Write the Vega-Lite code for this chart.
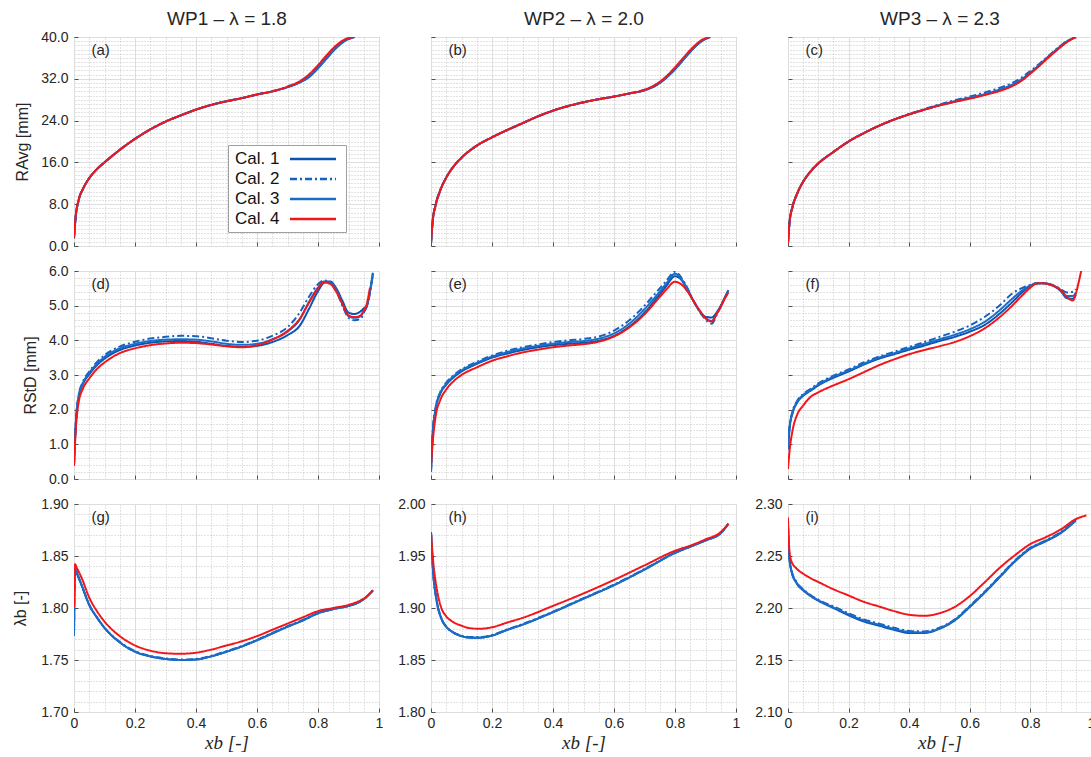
{
"$schema": "https://vega.github.io/schema/vega-lite/v6.json",
"background": "white",
"padding": {"left": 12, "top": 8, "right": 0, "bottom": 5},
"data": {"name": "d"},
"columns": 3,
"spacing": {"row": 25, "column": 52},
"bounds": "flush",
"config": {
  "view": {"stroke": "#a3a3a3", "strokeWidth": 1},
  "axis": {"labelFont": "Liberation Sans", "labelFontSize": 14, "labelColor": "#262626", "titleFont": "Liberation Sans", "titleFontSize": 16, "titleFontWeight": "normal", "titleColor": "#262626", "domain": false, "ticks": false, "labelPadding": 6, "labelOverlap": false, "labelFlush": false, "gridColor": "#dedede", "gridWidth": 1},
  "axisBottom": {"ticks": true, "tickSize": -4, "tickColor": "#505050", "labelPadding": 8},
  "axisLeft": {"ticks": true, "tickSize": -4, "tickColor": "#505050", "labelPadding": 10},
  "axisTop": {"ticks": false, "grid": true, "gridColor": "#c4c4c4", "gridDash": [1,2]},
  "axisRight": {"ticks": false, "grid": true, "gridColor": "#c4c4c4", "gridDash": [1,2]},
  "legend": {"labelFont": "Liberation Sans", "labelFontSize": 17, "labelColor": "#111111"}
},
"datasets": {"d": [
{"p":"a","x":0,"c1":1.5,"c2":1.5,"c3":1.5,"c4":1.6},
{"p":"a","x":0.005,"c1":5.3,"c2":5.3,"c3":5.3,"c4":5.5},
{"p":"a","x":0.015,"c1":8.7,"c2":8.7,"c3":8.7,"c4":8.8},
{"p":"a","x":0.03,"c1":11.0,"c2":11.0,"c3":11.0,"c4":11.0},
{"p":"a","x":0.05,"c1":13.0,"c2":13.0,"c3":13.0,"c4":13.0},
{"p":"a","x":0.075,"c1":14.7,"c2":14.7,"c3":14.7,"c4":14.7},
{"p":"a","x":0.1,"c1":16.0,"c2":16.0,"c3":16.0,"c4":16.0},
{"p":"a","x":0.15,"c1":18.4,"c2":18.4,"c3":18.4,"c4":18.4},
{"p":"a","x":0.2,"c1":20.5,"c2":20.5,"c3":20.5,"c4":20.5},
{"p":"a","x":0.25,"c1":22.3,"c2":22.3,"c3":22.3,"c4":22.3},
{"p":"a","x":0.3,"c1":23.8,"c2":23.8,"c3":23.8,"c4":23.8},
{"p":"a","x":0.35,"c1":25.0,"c2":25.0,"c3":25.0,"c4":25.0},
{"p":"a","x":0.4,"c1":26.1,"c2":26.1,"c3":26.1,"c4":26.1},
{"p":"a","x":0.45,"c1":27.0,"c2":27.0,"c3":27.0,"c4":27.0},
{"p":"a","x":0.5,"c1":27.7,"c2":27.7,"c3":27.7,"c4":27.7},
{"p":"a","x":0.55,"c1":28.3,"c2":28.3,"c3":28.3,"c4":28.3},
{"p":"a","x":0.6,"c1":29.0,"c2":29.0,"c3":29.0,"c4":29.0},
{"p":"a","x":0.65,"c1":29.6,"c2":29.6,"c3":29.6,"c4":29.6},
{"p":"a","x":0.7,"c1":30.4,"c2":30.5,"c3":30.4,"c4":30.5},
{"p":"a","x":0.74,"c1":31.3,"c2":31.5,"c3":31.3,"c4":31.5},
{"p":"a","x":0.77,"c1":32.3,"c2":32.6,"c3":32.4,"c4":32.8},
{"p":"a","x":0.8,"c1":34.0,"c2":34.3,"c3":34.1,"c4":34.6},
{"p":"a","x":0.83,"c1":36.0,"c2":36.3,"c3":36.1,"c4":36.6},
{"p":"a","x":0.86,"c1":37.9,"c2":38.1,"c3":38.0,"c4":38.4},
{"p":"a","x":0.89,"c1":39.3,"c2":39.5,"c3":39.4,"c4":39.6},
{"p":"a","x":0.92,"c1":40.0,"c2":40.0,"c3":40.0,"c4":40.0},
{"p":"b","x":0,"c1":0.5,"c2":0.5,"c3":0.5,"c4":0.5},
{"p":"b","x":0.005,"c1":4.5,"c2":4.5,"c3":4.5,"c4":4.5},
{"p":"b","x":0.015,"c1":7.8,"c2":7.8,"c3":7.8,"c4":7.8},
{"p":"b","x":0.03,"c1":10.6,"c2":10.6,"c3":10.6,"c4":10.6},
{"p":"b","x":0.05,"c1":13.1,"c2":13.1,"c3":13.1,"c4":13.1},
{"p":"b","x":0.075,"c1":15.3,"c2":15.3,"c3":15.3,"c4":15.3},
{"p":"b","x":0.1,"c1":16.9,"c2":16.9,"c3":16.9,"c4":16.9},
{"p":"b","x":0.15,"c1":19.2,"c2":19.2,"c3":19.2,"c4":19.2},
{"p":"b","x":0.2,"c1":20.8,"c2":20.8,"c3":20.8,"c4":20.8},
{"p":"b","x":0.25,"c1":22.2,"c2":22.2,"c3":22.2,"c4":22.2},
{"p":"b","x":0.3,"c1":23.5,"c2":23.5,"c3":23.5,"c4":23.5},
{"p":"b","x":0.35,"c1":24.8,"c2":24.8,"c3":24.8,"c4":24.8},
{"p":"b","x":0.4,"c1":25.9,"c2":25.9,"c3":25.9,"c4":25.9},
{"p":"b","x":0.45,"c1":26.8,"c2":26.8,"c3":26.8,"c4":26.8},
{"p":"b","x":0.5,"c1":27.5,"c2":27.5,"c3":27.5,"c4":27.5},
{"p":"b","x":0.55,"c1":28.1,"c2":28.1,"c3":28.1,"c4":28.1},
{"p":"b","x":0.6,"c1":28.6,"c2":28.6,"c3":28.6,"c4":28.6},
{"p":"b","x":0.65,"c1":29.2,"c2":29.2,"c3":29.2,"c4":29.2},
{"p":"b","x":0.7,"c1":29.8,"c2":29.9,"c3":29.8,"c4":29.9},
{"p":"b","x":0.74,"c1":30.8,"c2":31.0,"c3":30.9,"c4":31.0},
{"p":"b","x":0.77,"c1":32.1,"c2":32.3,"c3":32.2,"c4":32.4},
{"p":"b","x":0.8,"c1":33.8,"c2":34.0,"c3":33.9,"c4":34.2},
{"p":"b","x":0.83,"c1":35.8,"c2":36.0,"c3":35.9,"c4":36.2},
{"p":"b","x":0.86,"c1":37.8,"c2":37.9,"c3":37.8,"c4":38.1},
{"p":"b","x":0.89,"c1":39.3,"c2":39.4,"c3":39.3,"c4":39.5},
{"p":"b","x":0.915,"c1":40.0,"c2":40.0,"c3":40.0,"c4":40.0},
{"p":"c","x":0,"c1":0.5,"c2":0.5,"c3":0.5,"c4":0.5},
{"p":"c","x":0.005,"c1":4.5,"c2":4.5,"c3":4.5,"c4":4.5},
{"p":"c","x":0.015,"c1":7.5,"c2":7.5,"c3":7.5,"c4":7.5},
{"p":"c","x":0.03,"c1":10.0,"c2":10.0,"c3":10.0,"c4":10.0},
{"p":"c","x":0.05,"c1":12.3,"c2":12.3,"c3":12.3,"c4":12.3},
{"p":"c","x":0.075,"c1":14.3,"c2":14.3,"c3":14.3,"c4":14.3},
{"p":"c","x":0.1,"c1":15.8,"c2":15.8,"c3":15.8,"c4":15.8},
{"p":"c","x":0.15,"c1":18.0,"c2":18.0,"c3":18.0,"c4":18.0},
{"p":"c","x":0.2,"c1":20.0,"c2":20.0,"c3":20.0,"c4":20.0},
{"p":"c","x":0.25,"c1":21.6,"c2":21.6,"c3":21.6,"c4":21.6},
{"p":"c","x":0.3,"c1":23.0,"c2":23.0,"c3":23.0,"c4":23.0},
{"p":"c","x":0.35,"c1":24.2,"c2":24.2,"c3":24.2,"c4":24.2},
{"p":"c","x":0.4,"c1":25.2,"c2":25.3,"c3":25.2,"c4":25.2},
{"p":"c","x":0.45,"c1":26.1,"c2":26.2,"c3":26.1,"c4":26.1},
{"p":"c","x":0.5,"c1":26.9,"c2":27.1,"c3":27.0,"c4":26.9},
{"p":"c","x":0.55,"c1":27.6,"c2":27.9,"c3":27.7,"c4":27.6},
{"p":"c","x":0.6,"c1":28.3,"c2":28.6,"c3":28.4,"c4":28.2},
{"p":"c","x":0.65,"c1":29.0,"c2":29.4,"c3":29.1,"c4":28.9},
{"p":"c","x":0.7,"c1":29.8,"c2":30.3,"c3":30.0,"c4":29.7},
{"p":"c","x":0.74,"c1":30.7,"c2":31.2,"c3":30.9,"c4":30.6},
{"p":"c","x":0.77,"c1":31.7,"c2":32.2,"c3":31.9,"c4":31.6},
{"p":"c","x":0.8,"c1":33.1,"c2":33.5,"c3":33.2,"c4":33.0},
{"p":"c","x":0.83,"c1":34.6,"c2":34.9,"c3":34.7,"c4":34.5},
{"p":"c","x":0.86,"c1":36.2,"c2":36.4,"c3":36.3,"c4":36.1},
{"p":"c","x":0.89,"c1":37.7,"c2":37.9,"c3":37.8,"c4":37.6},
{"p":"c","x":0.92,"c1":39.1,"c2":39.2,"c3":39.1,"c4":39.0},
{"p":"c","x":0.95,"c1":40.0,"c2":40.0,"c3":40.0,"c4":40.0},
{"p":"d","x":0,"c1":0.4,"c2":0.4,"c3":0.4,"c4":0.38},
{"p":"d","x":0.005,"c1":1.45,"c2":1.5,"c3":1.45,"c4":1.3},
{"p":"d","x":0.015,"c1":2.35,"c2":2.4,"c3":2.38,"c4":2.2},
{"p":"d","x":0.03,"c1":2.75,"c2":2.82,"c3":2.78,"c4":2.62},
{"p":"d","x":0.05,"c1":3.02,"c2":3.1,"c3":3.06,"c4":2.9},
{"p":"d","x":0.075,"c1":3.28,"c2":3.37,"c3":3.32,"c4":3.17},
{"p":"d","x":0.1,"c1":3.47,"c2":3.57,"c3":3.52,"c4":3.36},
{"p":"d","x":0.15,"c1":3.72,"c2":3.82,"c3":3.77,"c4":3.63},
{"p":"d","x":0.2,"c1":3.85,"c2":3.96,"c3":3.9,"c4":3.77},
{"p":"d","x":0.25,"c1":3.93,"c2":4.05,"c3":3.98,"c4":3.86},
{"p":"d","x":0.3,"c1":3.97,"c2":4.1,"c3":4.02,"c4":3.91},
{"p":"d","x":0.35,"c1":3.98,"c2":4.13,"c3":4.03,"c4":3.93},
{"p":"d","x":0.4,"c1":3.96,"c2":4.12,"c3":4.02,"c4":3.92},
{"p":"d","x":0.45,"c1":3.9,"c2":4.06,"c3":3.97,"c4":3.88},
{"p":"d","x":0.5,"c1":3.84,"c2":3.99,"c3":3.9,"c4":3.83},
{"p":"d","x":0.55,"c1":3.81,"c2":3.95,"c3":3.87,"c4":3.8},
{"p":"d","x":0.6,"c1":3.84,"c2":3.99,"c3":3.9,"c4":3.86},
{"p":"d","x":0.65,"c1":3.95,"c2":4.13,"c3":4.03,"c4":4.02},
{"p":"d","x":0.7,"c1":4.15,"c2":4.38,"c3":4.25,"c4":4.27},
{"p":"d","x":0.74,"c1":4.42,"c2":4.8,"c3":4.6,"c4":4.62},
{"p":"d","x":0.77,"c1":4.9,"c2":5.25,"c3":5.1,"c4":5.08},
{"p":"d","x":0.8,"c1":5.42,"c2":5.62,"c3":5.52,"c4":5.5},
{"p":"d","x":0.82,"c1":5.66,"c2":5.73,"c3":5.7,"c4":5.67},
{"p":"d","x":0.84,"c1":5.7,"c2":5.66,"c3":5.67,"c4":5.63},
{"p":"d","x":0.86,"c1":5.5,"c2":5.42,"c3":5.45,"c4":5.4},
{"p":"d","x":0.88,"c1":5.14,"c2":5.0,"c3":5.05,"c4":5.05},
{"p":"d","x":0.9,"c1":4.8,"c2":4.65,"c3":4.7,"c4":4.72},
{"p":"d","x":0.92,"c1":4.76,"c2":4.58,"c3":4.65,"c4":4.67},
{"p":"d","x":0.94,"c1":4.84,"c2":4.62,"c3":4.7,"c4":4.72},
{"p":"d","x":0.95,"c1":4.92,"c2":4.8,"c3":4.85,"c4":4.85},
{"p":"d","x":0.96,"c1":5.0,"c2":4.97,"c3":4.98,"c4":5.05},
{"p":"d","x":0.97,"c1":5.4,"c2":5.35,"c3":5.38,"c4":5.5},
{"p":"d","x":0.98,"c1":5.95,"c2":5.9,"c3":5.92,"c4":null},
{"p":"e","x":0,"c1":0.2,"c2":0.2,"c3":0.2,"c4":0.38},
{"p":"e","x":0.005,"c1":1.2,"c2":1.25,"c3":1.22,"c4":1.0},
{"p":"e","x":0.015,"c1":2.0,"c2":2.05,"c3":2.02,"c4":1.8},
{"p":"e","x":0.03,"c1":2.45,"c2":2.5,"c3":2.47,"c4":2.27},
{"p":"e","x":0.05,"c1":2.72,"c2":2.78,"c3":2.75,"c4":2.58},
{"p":"e","x":0.075,"c1":2.94,"c2":3.0,"c3":2.97,"c4":2.83},
{"p":"e","x":0.1,"c1":3.1,"c2":3.16,"c3":3.13,"c4":3.0},
{"p":"e","x":0.15,"c1":3.32,"c2":3.38,"c3":3.35,"c4":3.22},
{"p":"e","x":0.2,"c1":3.5,"c2":3.56,"c3":3.53,"c4":3.41},
{"p":"e","x":0.25,"c1":3.62,"c2":3.7,"c3":3.66,"c4":3.54},
{"p":"e","x":0.3,"c1":3.72,"c2":3.8,"c3":3.76,"c4":3.65},
{"p":"e","x":0.35,"c1":3.8,"c2":3.88,"c3":3.84,"c4":3.73},
{"p":"e","x":0.4,"c1":3.86,"c2":3.95,"c3":3.9,"c4":3.8},
{"p":"e","x":0.45,"c1":3.9,"c2":4.0,"c3":3.95,"c4":3.85},
{"p":"e","x":0.5,"c1":3.93,"c2":4.04,"c3":3.98,"c4":3.89},
{"p":"e","x":0.55,"c1":3.99,"c2":4.11,"c3":4.05,"c4":3.96},
{"p":"e","x":0.6,"c1":4.13,"c2":4.28,"c3":4.2,"c4":4.11},
{"p":"e","x":0.65,"c1":4.4,"c2":4.58,"c3":4.48,"c4":4.37},
{"p":"e","x":0.7,"c1":4.8,"c2":5.0,"c3":4.9,"c4":4.75},
{"p":"e","x":0.74,"c1":5.22,"c2":5.4,"c3":5.3,"c4":5.15},
{"p":"e","x":0.77,"c1":5.55,"c2":5.7,"c3":5.62,"c4":5.45},
{"p":"e","x":0.8,"c1":5.85,"c2":5.98,"c3":5.92,"c4":5.69},
{"p":"e","x":0.82,"c1":5.75,"c2":5.82,"c3":5.78,"c4":5.62},
{"p":"e","x":0.84,"c1":5.47,"c2":5.52,"c3":5.5,"c4":5.42},
{"p":"e","x":0.86,"c1":5.14,"c2":5.15,"c3":5.15,"c4":5.15},
{"p":"e","x":0.88,"c1":4.86,"c2":4.84,"c3":4.85,"c4":4.87},
{"p":"e","x":0.9,"c1":4.68,"c2":4.6,"c3":4.64,"c4":4.64},
{"p":"e","x":0.92,"c1":4.66,"c2":4.48,"c3":4.56,"c4":4.54},
{"p":"e","x":0.94,"c1":4.85,"c2":4.8,"c3":4.82,"c4":4.82},
{"p":"e","x":0.95,"c1":5.0,"c2":4.97,"c3":4.98,"c4":4.97},
{"p":"e","x":0.96,"c1":5.18,"c2":5.15,"c3":5.16,"c4":5.15},
{"p":"e","x":0.975,"c1":5.45,"c2":5.43,"c3":5.44,"c4":5.38},
{"p":"f","x":0,"c1":0.85,"c2":0.9,"c3":0.87,"c4":0.29},
{"p":"f","x":0.005,"c1":1.45,"c2":1.5,"c3":1.47,"c4":0.8},
{"p":"f","x":0.015,"c1":1.9,"c2":1.95,"c3":1.92,"c4":1.4},
{"p":"f","x":0.03,"c1":2.2,"c2":2.25,"c3":2.22,"c4":1.85},
{"p":"f","x":0.05,"c1":2.4,"c2":2.45,"c3":2.42,"c4":2.12},
{"p":"f","x":0.075,"c1":2.55,"c2":2.6,"c3":2.57,"c4":2.37},
{"p":"f","x":0.1,"c1":2.7,"c2":2.76,"c3":2.72,"c4":2.5},
{"p":"f","x":0.15,"c1":2.92,"c2":2.98,"c3":2.95,"c4":2.7},
{"p":"f","x":0.2,"c1":3.1,"c2":3.16,"c3":3.13,"c4":2.88},
{"p":"f","x":0.25,"c1":3.3,"c2":3.36,"c3":3.32,"c4":3.08},
{"p":"f","x":0.3,"c1":3.47,"c2":3.53,"c3":3.5,"c4":3.28},
{"p":"f","x":0.35,"c1":3.6,"c2":3.67,"c3":3.63,"c4":3.45},
{"p":"f","x":0.4,"c1":3.73,"c2":3.81,"c3":3.77,"c4":3.6},
{"p":"f","x":0.45,"c1":3.85,"c2":3.95,"c3":3.9,"c4":3.72},
{"p":"f","x":0.5,"c1":3.98,"c2":4.1,"c3":4.03,"c4":3.83},
{"p":"f","x":0.55,"c1":4.1,"c2":4.25,"c3":4.16,"c4":3.95},
{"p":"f","x":0.6,"c1":4.25,"c2":4.43,"c3":4.32,"c4":4.12},
{"p":"f","x":0.65,"c1":4.45,"c2":4.68,"c3":4.54,"c4":4.35},
{"p":"f","x":0.7,"c1":4.78,"c2":5.02,"c3":4.88,"c4":4.68},
{"p":"f","x":0.74,"c1":5.1,"c2":5.35,"c3":5.2,"c4":5.0},
{"p":"f","x":0.77,"c1":5.36,"c2":5.5,"c3":5.42,"c4":5.27},
{"p":"f","x":0.8,"c1":5.57,"c2":5.6,"c3":5.58,"c4":5.52},
{"p":"f","x":0.82,"c1":5.64,"c2":5.65,"c3":5.65,"c4":5.64},
{"p":"f","x":0.84,"c1":5.65,"c2":5.65,"c3":5.65,"c4":5.65},
{"p":"f","x":0.86,"c1":5.62,"c2":5.63,"c3":5.62,"c4":5.62},
{"p":"f","x":0.88,"c1":5.55,"c2":5.57,"c3":5.56,"c4":5.56},
{"p":"f","x":0.9,"c1":5.42,"c2":5.48,"c3":5.45,"c4":5.45},
{"p":"f","x":0.92,"c1":5.22,"c2":5.38,"c3":5.28,"c4":5.25},
{"p":"f","x":0.94,"c1":5.2,"c2":5.4,"c3":5.28,"c4":5.15},
{"p":"f","x":0.95,"c1":5.32,"c2":5.48,"c3":5.38,"c4":5.35},
{"p":"f","x":0.96,"c1":null,"c2":null,"c3":null,"c4":5.7},
{"p":"f","x":0.97,"c1":null,"c2":null,"c3":null,"c4":6.1},
{"p":"f","x":0.98,"c1":null,"c2":null,"c3":null,"c4":6.5},
{"p":"g","x":0,"c1":1.773,"c2":1.773,"c3":1.773,"c4":1.8},
{"p":"g","x":0.003,"c1":1.838,"c2":1.838,"c3":1.838,"c4":1.842},
{"p":"g","x":0.01,"c1":1.833,"c2":1.833,"c3":1.833,"c4":1.838},
{"p":"g","x":0.025,"c1":1.822,"c2":1.822,"c3":1.822,"c4":1.829},
{"p":"g","x":0.05,"c1":1.803,"c2":1.803,"c3":1.803,"c4":1.81},
{"p":"g","x":0.075,"c1":1.791,"c2":1.791,"c3":1.791,"c4":1.797},
{"p":"g","x":0.1,"c1":1.781,"c2":1.781,"c3":1.781,"c4":1.787},
{"p":"g","x":0.15,"c1":1.767,"c2":1.7675,"c3":1.767,"c4":1.773},
{"p":"g","x":0.2,"c1":1.758,"c2":1.7585,"c3":1.758,"c4":1.764},
{"p":"g","x":0.25,"c1":1.7535,"c2":1.754,"c3":1.7535,"c4":1.759},
{"p":"g","x":0.3,"c1":1.751,"c2":1.7515,"c3":1.751,"c4":1.7565},
{"p":"g","x":0.35,"c1":1.75,"c2":1.7505,"c3":1.75,"c4":1.756},
{"p":"g","x":0.4,"c1":1.7505,"c2":1.751,"c3":1.7505,"c4":1.757},
{"p":"g","x":0.45,"c1":1.7535,"c2":1.754,"c3":1.7535,"c4":1.76},
{"p":"g","x":0.5,"c1":1.758,"c2":1.7585,"c3":1.758,"c4":1.764},
{"p":"g","x":0.55,"c1":1.763,"c2":1.7635,"c3":1.763,"c4":1.768},
{"p":"g","x":0.6,"c1":1.769,"c2":1.7695,"c3":1.769,"c4":1.773},
{"p":"g","x":0.65,"c1":1.7755,"c2":1.776,"c3":1.7755,"c4":1.779},
{"p":"g","x":0.7,"c1":1.782,"c2":1.7825,"c3":1.782,"c4":1.785},
{"p":"g","x":0.75,"c1":1.788,"c2":1.7885,"c3":1.788,"c4":1.791},
{"p":"g","x":0.8,"c1":1.795,"c2":1.795,"c3":1.795,"c4":1.797},
{"p":"g","x":0.85,"c1":1.799,"c2":1.799,"c3":1.799,"c4":1.8},
{"p":"g","x":0.9,"c1":1.802,"c2":1.802,"c3":1.802,"c4":1.803},
{"p":"g","x":0.93,"c1":1.805,"c2":1.805,"c3":1.805,"c4":1.806},
{"p":"g","x":0.96,"c1":1.811,"c2":1.811,"c3":1.811,"c4":1.811},
{"p":"g","x":0.98,"c1":1.817,"c2":1.817,"c3":1.817,"c4":1.817},
{"p":"h","x":0,"c1":1.973,"c2":1.973,"c3":1.973,"c4":1.972},
{"p":"h","x":0.007,"c1":1.935,"c2":1.935,"c3":1.935,"c4":1.945},
{"p":"h","x":0.018,"c1":1.908,"c2":1.908,"c3":1.908,"c4":1.92},
{"p":"h","x":0.034,"c1":1.89,"c2":1.89,"c3":1.89,"c4":1.9},
{"p":"h","x":0.05,"c1":1.882,"c2":1.882,"c3":1.882,"c4":1.892},
{"p":"h","x":0.07,"c1":1.877,"c2":1.877,"c3":1.877,"c4":1.887},
{"p":"h","x":0.1,"c1":1.873,"c2":1.8735,"c3":1.873,"c4":1.883},
{"p":"h","x":0.13,"c1":1.8715,"c2":1.872,"c3":1.8715,"c4":1.8805},
{"p":"h","x":0.16,"c1":1.8715,"c2":1.872,"c3":1.8715,"c4":1.88},
{"p":"h","x":0.2,"c1":1.8735,"c2":1.874,"c3":1.8735,"c4":1.8815},
{"p":"h","x":0.25,"c1":1.879,"c2":1.8795,"c3":1.879,"c4":1.886},
{"p":"h","x":0.3,"c1":1.884,"c2":1.8845,"c3":1.884,"c4":1.8905},
{"p":"h","x":0.4,"c1":1.896,"c2":1.8965,"c3":1.896,"c4":1.902},
{"p":"h","x":0.5,"c1":1.909,"c2":1.9095,"c3":1.909,"c4":1.914},
{"p":"h","x":0.6,"c1":1.922,"c2":1.9225,"c3":1.922,"c4":1.927},
{"p":"h","x":0.7,"c1":1.937,"c2":1.9375,"c3":1.937,"c4":1.941},
{"p":"h","x":0.8,"c1":1.953,"c2":1.953,"c3":1.953,"c4":1.955},
{"p":"h","x":0.85,"c1":1.959,"c2":1.959,"c3":1.959,"c4":1.96},
{"p":"h","x":0.9,"c1":1.965,"c2":1.965,"c3":1.965,"c4":1.966},
{"p":"h","x":0.95,"c1":1.972,"c2":1.972,"c3":1.972,"c4":1.973},
{"p":"h","x":0.975,"c1":1.981,"c2":1.981,"c3":1.981,"c4":1.981},
{"p":"i","x":0,"c1":2.278,"c2":2.279,"c3":2.278,"c4":2.287},
{"p":"i","x":0.003,"c1":2.255,"c2":2.256,"c3":2.255,"c4":2.261},
{"p":"i","x":0.011,"c1":2.236,"c2":2.237,"c3":2.236,"c4":2.245},
{"p":"i","x":0.028,"c1":2.224,"c2":2.225,"c3":2.2245,"c4":2.238},
{"p":"i","x":0.05,"c1":2.217,"c2":2.218,"c3":2.2175,"c4":2.233},
{"p":"i","x":0.072,"c1":2.212,"c2":2.213,"c3":2.2125,"c4":2.229},
{"p":"i","x":0.1,"c1":2.207,"c2":2.208,"c3":2.2075,"c4":2.225},
{"p":"i","x":0.15,"c1":2.2,"c2":2.2015,"c3":2.2005,"c4":2.218},
{"p":"i","x":0.2,"c1":2.193,"c2":2.195,"c3":2.194,"c4":2.212},
{"p":"i","x":0.25,"c1":2.187,"c2":2.189,"c3":2.188,"c4":2.206},
{"p":"i","x":0.3,"c1":2.183,"c2":2.185,"c3":2.184,"c4":2.2015},
{"p":"i","x":0.35,"c1":2.179,"c2":2.181,"c3":2.18,"c4":2.197},
{"p":"i","x":0.4,"c1":2.176,"c2":2.178,"c3":2.177,"c4":2.1935},
{"p":"i","x":0.45,"c1":2.176,"c2":2.1775,"c3":2.1765,"c4":2.1925},
{"p":"i","x":0.5,"c1":2.18,"c2":2.181,"c3":2.1805,"c4":2.195},
{"p":"i","x":0.55,"c1":2.188,"c2":2.189,"c3":2.1885,"c4":2.201},
{"p":"i","x":0.6,"c1":2.201,"c2":2.202,"c3":2.2015,"c4":2.2115},
{"p":"i","x":0.65,"c1":2.215,"c2":2.216,"c3":2.2155,"c4":2.225},
{"p":"i","x":0.7,"c1":2.23,"c2":2.231,"c3":2.2305,"c4":2.239},
{"p":"i","x":0.75,"c1":2.245,"c2":2.246,"c3":2.2455,"c4":2.251},
{"p":"i","x":0.8,"c1":2.257,"c2":2.258,"c3":2.2575,"c4":2.2615},
{"p":"i","x":0.85,"c1":2.264,"c2":2.265,"c3":2.2645,"c4":2.268},
{"p":"i","x":0.9,"c1":2.272,"c2":2.273,"c3":2.2725,"c4":2.2755},
{"p":"i","x":0.95,"c1":2.284,"c2":2.285,"c3":2.2845,"c4":2.2855},
{"p":"i","x":0.985,"c1":null,"c2":null,"c3":null,"c4":2.289}
]},
"concat": [
{"width": 305, "height": 209,
 "transform": [{"filter": "datum.p == 'a'"}, {"fold": ["c1","c2","c3","c4"], "as": ["cal","v"]}, {"filter": "isValid(datum.v)"}],
 "layer": [
  {"mark": {"type": "line", "strokeWidth": 2, "clip": true, "interpolate": "monotone"},
   "encoding": {
    "x": {"field": "x", "type": "quantitative", "scale": {"domain": [0,1], "nice": false}, "axis": {"orient": "bottom", "values": [0,0.2,0.4,0.6,0.8,1], "labels": false, "title": null}},
    "y": {"field": "v", "type": "quantitative", "scale": {"domain": [0,40], "nice": false, "zero": false}, "axis": {"orient": "left", "values": [0,8,16,24,32,40], "format": ".1f", "title": "RAvg [mm]", "titlePadding": 10}},
    "color": {"field": "cal", "type": "nominal", "scale": {"domain": ["c1","c2","c3","c4"], "range": ["#0b55b0","#1462c0","#1a6cc8","#f2161b"]}, "legend": {"orient": "none", "legendX": 154, "legendY": 108, "title": null, "labelExpr": "'Cal. ' + slice(datum.label, 1)", "symbolType": "M-3,0H3", "symbolSize": 235, "symbolStrokeWidth": 2.5, "labelOffset": -87, "symbolOffset": 71, "strokeColor": "#a0a0a0", "fillColor": "white", "padding": 5, "rowPadding": 3}},
    "strokeDash": {"field": "cal", "type": "nominal", "scale": {"domain": ["c1","c2","c3","c4"], "range": [[1,0],[7,3,2,3],[1,0],[1,0]]}, "legend": {"orient": "none", "legendX": 154, "legendY": 108, "title": null, "labelExpr": "'Cal. ' + slice(datum.label, 1)", "symbolType": "M-3,0H3", "symbolSize": 235, "symbolStrokeWidth": 2.5, "labelOffset": -87, "symbolOffset": 71, "strokeColor": "#a0a0a0", "fillColor": "white", "padding": 5, "rowPadding": 3}}
   }},
  {"mark": {"type": "point", "opacity": 0},
   "encoding": {
    "x": {"field": "x", "type": "quantitative", "axis": {"orient": "top", "grid": true, "values": [0.05,0.1,0.15,0.25,0.3,0.35,0.45,0.5,0.55,0.65,0.7,0.75,0.85,0.9,0.95], "title": "WP1 – λ = 1.8", "titleFontSize": 19, "titlePadding": 9, "labels": false}},
    "y": {"field": "v", "type": "quantitative", "axis": {"orient": "right", "grid": true, "values": [0.8,1.6,2.4,3.2,4,4.8,5.6,6.4,7.2,8.8,9.6,10.4,11.2,12,12.8,13.6,14.4,15.2,16.8,17.6,18.4,19.2,20,20.8,21.6,22.4,23.2,24.8,25.6,26.4,27.2,28,28.8,29.6,30.4,31.2,32.8,33.6,34.4,35.2,36,36.8,37.6,38.4,39.2], "title": "(a)", "titleAngle": 0, "titleX": -288, "titleY": 12, "titleAlign": "left", "titleBaseline": "middle", "titleFontSize": 15, "labels": false}}
   }}
 ]},
{"width": 305, "height": 209,
 "transform": [{"filter": "datum.p == 'b'"}, {"fold": ["c1","c2","c3","c4"], "as": ["cal","v"]}, {"filter": "isValid(datum.v)"}],
 "layer": [
  {"mark": {"type": "line", "strokeWidth": 2, "clip": true, "interpolate": "monotone"},
   "encoding": {
    "x": {"field": "x", "type": "quantitative", "scale": {"domain": [0,1], "nice": false}, "axis": {"orient": "bottom", "values": [0,0.2,0.4,0.6,0.8,1], "labels": false, "title": null}},
    "y": {"field": "v", "type": "quantitative", "scale": {"domain": [0,40], "nice": false, "zero": false}, "axis": {"orient": "left", "values": [0,8,16,24,32,40], "labels": false, "title": null}},
    "color": {"field": "cal", "type": "nominal"},
    "strokeDash": {"field": "cal", "type": "nominal"}
   }},
  {"mark": {"type": "point", "opacity": 0},
   "encoding": {
    "x": {"field": "x", "type": "quantitative", "axis": {"orient": "top", "grid": true, "values": [0.05,0.1,0.15,0.25,0.3,0.35,0.45,0.5,0.55,0.65,0.7,0.75,0.85,0.9,0.95], "title": "WP2 – λ = 2.0", "titleFontSize": 19, "titlePadding": 9, "labels": false}},
    "y": {"field": "v", "type": "quantitative", "axis": {"orient": "right", "grid": true, "values": [0.8,1.6,2.4,3.2,4,4.8,5.6,6.4,7.2,8.8,9.6,10.4,11.2,12,12.8,13.6,14.4,15.2,16.8,17.6,18.4,19.2,20,20.8,21.6,22.4,23.2,24.8,25.6,26.4,27.2,28,28.8,29.6,30.4,31.2,32.8,33.6,34.4,35.2,36,36.8,37.6,38.4,39.2], "title": "(b)", "titleAngle": 0, "titleX": -288, "titleY": 12, "titleAlign": "left", "titleBaseline": "middle", "titleFontSize": 15, "labels": false}}
   }}
 ]},
{"width": 303, "height": 209,
 "transform": [{"filter": "datum.p == 'c'"}, {"fold": ["c1","c2","c3","c4"], "as": ["cal","v"]}, {"filter": "isValid(datum.v)"}],
 "layer": [
  {"mark": {"type": "line", "strokeWidth": 2, "clip": true, "interpolate": "monotone"},
   "encoding": {
    "x": {"field": "x", "type": "quantitative", "scale": {"domain": [0,1], "nice": false}, "axis": {"orient": "bottom", "values": [0,0.2,0.4,0.6,0.8,1], "labels": false, "title": null}},
    "y": {"field": "v", "type": "quantitative", "scale": {"domain": [0,40], "nice": false, "zero": false}, "axis": {"orient": "left", "values": [0,8,16,24,32,40], "labels": false, "title": null}},
    "color": {"field": "cal", "type": "nominal"},
    "strokeDash": {"field": "cal", "type": "nominal"}
   }},
  {"mark": {"type": "point", "opacity": 0},
   "encoding": {
    "x": {"field": "x", "type": "quantitative", "axis": {"orient": "top", "grid": true, "values": [0.05,0.1,0.15,0.25,0.3,0.35,0.45,0.5,0.55,0.65,0.7,0.75,0.85,0.9,0.95], "title": "WP3 – λ = 2.3", "titleFontSize": 19, "titlePadding": 9, "labels": false}},
    "y": {"field": "v", "type": "quantitative", "axis": {"orient": "right", "grid": true, "values": [0.8,1.6,2.4,3.2,4,4.8,5.6,6.4,7.2,8.8,9.6,10.4,11.2,12,12.8,13.6,14.4,15.2,16.8,17.6,18.4,19.2,20,20.8,21.6,22.4,23.2,24.8,25.6,26.4,27.2,28,28.8,29.6,30.4,31.2,32.8,33.6,34.4,35.2,36,36.8,37.6,38.4,39.2], "title": "(c)", "titleAngle": 0, "titleX": -286, "titleY": 12, "titleAlign": "left", "titleBaseline": "middle", "titleFontSize": 15, "labels": false}}
   }}
 ]},
{"width": 305, "height": 208,
 "transform": [{"filter": "datum.p == 'd'"}, {"fold": ["c1","c2","c3","c4"], "as": ["cal","v"]}, {"filter": "isValid(datum.v)"}],
 "layer": [
  {"mark": {"type": "line", "strokeWidth": 2, "clip": true, "interpolate": "monotone"},
   "encoding": {
    "x": {"field": "x", "type": "quantitative", "scale": {"domain": [0,1], "nice": false}, "axis": {"orient": "bottom", "values": [0,0.2,0.4,0.6,0.8,1], "labels": false, "title": null}},
    "y": {"field": "v", "type": "quantitative", "scale": {"domain": [0,6], "nice": false, "zero": false}, "axis": {"orient": "left", "values": [0,1,2,3,4,5,6], "format": ".1f", "title": "RStD [mm]", "titlePadding": 10}},
    "color": {"field": "cal", "type": "nominal"},
    "strokeDash": {"field": "cal", "type": "nominal"}
   }},
  {"mark": {"type": "point", "opacity": 0},
   "encoding": {
    "x": {"field": "x", "type": "quantitative", "axis": {"orient": "top", "grid": true, "values": [0.05,0.1,0.15,0.25,0.3,0.35,0.45,0.5,0.55,0.65,0.7,0.75,0.85,0.9,0.95], "title": null, "labels": false}},
    "y": {"field": "v", "type": "quantitative", "axis": {"orient": "right", "grid": true, "values": [0.2,0.4,0.6,0.8,1.2,1.4,1.6,1.8,2.2,2.4,2.6,2.8,3.2,3.4,3.6,3.8,4.2,4.4,4.6,4.8,5.2,5.4,5.6,5.8], "title": "(d)", "titleAngle": 0, "titleX": -288, "titleY": 12, "titleAlign": "left", "titleBaseline": "middle", "titleFontSize": 15, "labels": false}}
   }}
 ]},
{"width": 305, "height": 208,
 "transform": [{"filter": "datum.p == 'e'"}, {"fold": ["c1","c2","c3","c4"], "as": ["cal","v"]}, {"filter": "isValid(datum.v)"}],
 "layer": [
  {"mark": {"type": "line", "strokeWidth": 2, "clip": true, "interpolate": "monotone"},
   "encoding": {
    "x": {"field": "x", "type": "quantitative", "scale": {"domain": [0,1], "nice": false}, "axis": {"orient": "bottom", "values": [0,0.2,0.4,0.6,0.8,1], "labels": false, "title": null}},
    "y": {"field": "v", "type": "quantitative", "scale": {"domain": [0,6], "nice": false, "zero": false}, "axis": {"orient": "left", "values": [0,1,2,3,4,5,6], "labels": false, "title": null}},
    "color": {"field": "cal", "type": "nominal"},
    "strokeDash": {"field": "cal", "type": "nominal"}
   }},
  {"mark": {"type": "point", "opacity": 0},
   "encoding": {
    "x": {"field": "x", "type": "quantitative", "axis": {"orient": "top", "grid": true, "values": [0.05,0.1,0.15,0.25,0.3,0.35,0.45,0.5,0.55,0.65,0.7,0.75,0.85,0.9,0.95], "title": null, "labels": false}},
    "y": {"field": "v", "type": "quantitative", "axis": {"orient": "right", "grid": true, "values": [0.2,0.4,0.6,0.8,1.2,1.4,1.6,1.8,2.2,2.4,2.6,2.8,3.2,3.4,3.6,3.8,4.2,4.4,4.6,4.8,5.2,5.4,5.6,5.8], "title": "(e)", "titleAngle": 0, "titleX": -288, "titleY": 12, "titleAlign": "left", "titleBaseline": "middle", "titleFontSize": 15, "labels": false}}
   }}
 ]},
{"width": 303, "height": 208,
 "transform": [{"filter": "datum.p == 'f'"}, {"fold": ["c1","c2","c3","c4"], "as": ["cal","v"]}, {"filter": "isValid(datum.v)"}],
 "layer": [
  {"mark": {"type": "line", "strokeWidth": 2, "clip": true, "interpolate": "monotone"},
   "encoding": {
    "x": {"field": "x", "type": "quantitative", "scale": {"domain": [0,1], "nice": false}, "axis": {"orient": "bottom", "values": [0,0.2,0.4,0.6,0.8,1], "labels": false, "title": null}},
    "y": {"field": "v", "type": "quantitative", "scale": {"domain": [0,6], "nice": false, "zero": false}, "axis": {"orient": "left", "values": [0,1,2,3,4,5,6], "labels": false, "title": null}},
    "color": {"field": "cal", "type": "nominal"},
    "strokeDash": {"field": "cal", "type": "nominal"}
   }},
  {"mark": {"type": "point", "opacity": 0},
   "encoding": {
    "x": {"field": "x", "type": "quantitative", "axis": {"orient": "top", "grid": true, "values": [0.05,0.1,0.15,0.25,0.3,0.35,0.45,0.5,0.55,0.65,0.7,0.75,0.85,0.9,0.95], "title": null, "labels": false}},
    "y": {"field": "v", "type": "quantitative", "axis": {"orient": "right", "grid": true, "values": [0.2,0.4,0.6,0.8,1.2,1.4,1.6,1.8,2.2,2.4,2.6,2.8,3.2,3.4,3.6,3.8,4.2,4.4,4.6,4.8,5.2,5.4,5.6,5.8], "title": "(f)", "titleAngle": 0, "titleX": -286, "titleY": 12, "titleAlign": "left", "titleBaseline": "middle", "titleFontSize": 15, "labels": false}}
   }}
 ]},
{"width": 305, "height": 208,
 "transform": [{"filter": "datum.p == 'g'"}, {"fold": ["c1","c2","c3","c4"], "as": ["cal","v"]}, {"filter": "isValid(datum.v)"}],
 "layer": [
  {"mark": {"type": "line", "strokeWidth": 2, "clip": true, "interpolate": "monotone"},
   "encoding": {
    "x": {"field": "x", "type": "quantitative", "scale": {"domain": [0,1], "nice": false}, "axis": {"orient": "bottom", "values": [0,0.2,0.4,0.6,0.8,1], "format": "~g", "title": "xb [-]", "titleFont": "Liberation Serif", "titleFontStyle": "italic", "titleFontSize": 19, "titlePadding": 3}},
    "y": {"field": "v", "type": "quantitative", "scale": {"domain": [1.7,1.9], "nice": false, "zero": false}, "axis": {"orient": "left", "values": [1.7,1.75,1.8,1.85,1.9], "format": ".2f", "title": "λb [-]", "titlePadding": 12}},
    "color": {"field": "cal", "type": "nominal"},
    "strokeDash": {"field": "cal", "type": "nominal"}
   }},
  {"mark": {"type": "point", "opacity": 0},
   "encoding": {
    "x": {"field": "x", "type": "quantitative", "axis": {"orient": "top", "grid": true, "values": [0.05,0.1,0.15,0.25,0.3,0.35,0.45,0.5,0.55,0.65,0.7,0.75,0.85,0.9,0.95], "title": null, "labels": false}},
    "y": {"field": "v", "type": "quantitative", "axis": {"orient": "right", "grid": true, "values": [1.71,1.72,1.73,1.74,1.76,1.77,1.78,1.79,1.81,1.82,1.83,1.84,1.86,1.87,1.88,1.89], "title": "(g)", "titleAngle": 0, "titleX": -288, "titleY": 12, "titleAlign": "left", "titleBaseline": "middle", "titleFontSize": 15, "labels": false}}
   }}
 ]},
{"width": 305, "height": 208,
 "transform": [{"filter": "datum.p == 'h'"}, {"fold": ["c1","c2","c3","c4"], "as": ["cal","v"]}, {"filter": "isValid(datum.v)"}],
 "layer": [
  {"mark": {"type": "line", "strokeWidth": 2, "clip": true, "interpolate": "monotone"},
   "encoding": {
    "x": {"field": "x", "type": "quantitative", "scale": {"domain": [0,1], "nice": false}, "axis": {"orient": "bottom", "values": [0,0.2,0.4,0.6,0.8,1], "format": "~g", "title": "xb [-]", "titleFont": "Liberation Serif", "titleFontStyle": "italic", "titleFontSize": 19, "titlePadding": 3}},
    "y": {"field": "v", "type": "quantitative", "scale": {"domain": [1.8,2.0], "nice": false, "zero": false}, "axis": {"orient": "left", "values": [1.8,1.85,1.9,1.95,2.0], "format": ".2f", "title": null}},
    "color": {"field": "cal", "type": "nominal"},
    "strokeDash": {"field": "cal", "type": "nominal"}
   }},
  {"mark": {"type": "point", "opacity": 0},
   "encoding": {
    "x": {"field": "x", "type": "quantitative", "axis": {"orient": "top", "grid": true, "values": [0.05,0.1,0.15,0.25,0.3,0.35,0.45,0.5,0.55,0.65,0.7,0.75,0.85,0.9,0.95], "title": null, "labels": false}},
    "y": {"field": "v", "type": "quantitative", "axis": {"orient": "right", "grid": true, "values": [1.81,1.82,1.83,1.84,1.86,1.87,1.88,1.89,1.91,1.92,1.93,1.94,1.96,1.97,1.98,1.99], "title": "(h)", "titleAngle": 0, "titleX": -288, "titleY": 12, "titleAlign": "left", "titleBaseline": "middle", "titleFontSize": 15, "labels": false}}
   }}
 ]},
{"width": 303, "height": 208,
 "transform": [{"filter": "datum.p == 'i'"}, {"fold": ["c1","c2","c3","c4"], "as": ["cal","v"]}, {"filter": "isValid(datum.v)"}],
 "layer": [
  {"mark": {"type": "line", "strokeWidth": 2, "clip": true, "interpolate": "monotone"},
   "encoding": {
    "x": {"field": "x", "type": "quantitative", "scale": {"domain": [0,1], "nice": false}, "axis": {"orient": "bottom", "values": [0,0.2,0.4,0.6,0.8,1], "format": "~g", "title": "xb [-]", "titleFont": "Liberation Serif", "titleFontStyle": "italic", "titleFontSize": 19, "titlePadding": 3}},
    "y": {"field": "v", "type": "quantitative", "scale": {"domain": [2.1,2.3], "nice": false, "zero": false}, "axis": {"orient": "left", "values": [2.1,2.15,2.2,2.25,2.3], "format": ".2f", "title": null}},
    "color": {"field": "cal", "type": "nominal"},
    "strokeDash": {"field": "cal", "type": "nominal"}
   }},
  {"mark": {"type": "point", "opacity": 0},
   "encoding": {
    "x": {"field": "x", "type": "quantitative", "axis": {"orient": "top", "grid": true, "values": [0.05,0.1,0.15,0.25,0.3,0.35,0.45,0.5,0.55,0.65,0.7,0.75,0.85,0.9,0.95], "title": null, "labels": false}},
    "y": {"field": "v", "type": "quantitative", "axis": {"orient": "right", "grid": true, "values": [2.11,2.12,2.13,2.14,2.16,2.17,2.18,2.19,2.21,2.22,2.23,2.24,2.26,2.27,2.28,2.29], "title": "(i)", "titleAngle": 0, "titleX": -286, "titleY": 12, "titleAlign": "left", "titleBaseline": "middle", "titleFontSize": 15, "labels": false}}
   }}
 ]}
]
}
